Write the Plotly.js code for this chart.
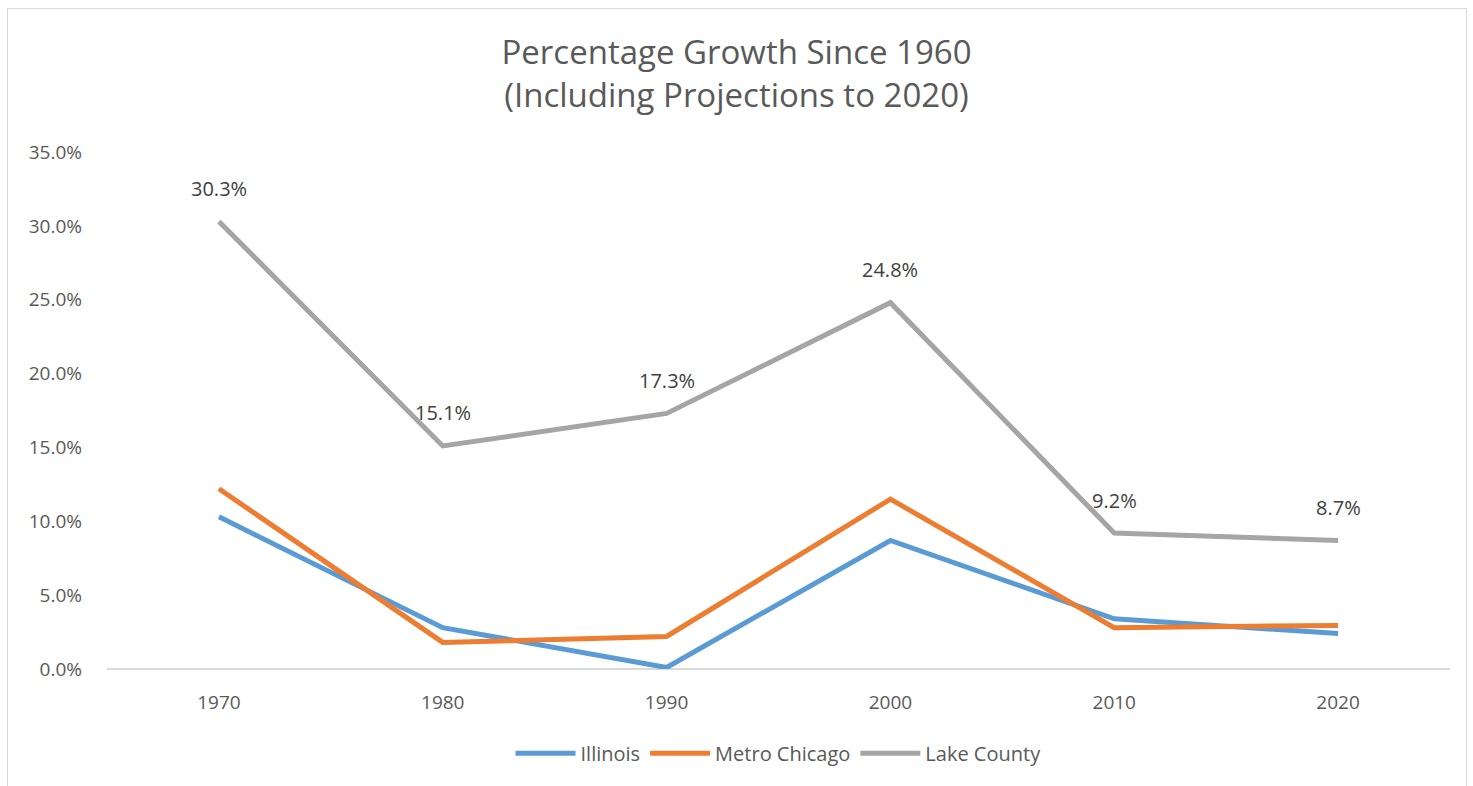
<!DOCTYPE html>
<html>
<head>
<meta charset="utf-8">
<script src="https://cdn.plot.ly/plotly-3.0.1.min.js"></script>
<style>
html,body{margin:0;padding:0;background:#fff;}
#chart{width:1473px;height:786px;}
#frame{position:absolute;left:7px;top:8px;width:1458px;height:790px;border:1px solid #d9d9d9;pointer-events:none;}
</style>
</head>
<body>
<div id="chart"></div>
<div id="frame"></div>
<script>
const years = ['1970','1980','1990','2000','2010','2020'];
const illinois = [10.3, 2.8, 0.1, 8.7, 3.4, 2.4];
const metroChicago = [12.2, 1.8, 2.2, 11.5, 2.8, 2.95];
const lakeCounty = [30.3, 15.1, 17.3, 24.8, 9.2, 8.7];
const lakeLabels = ['30.3%','15.1%','17.3%','24.8%','9.2%','8.7%'];
const yTicks = [0,5,10,15,20,25,30,35];
const yTickText = ['0.0%','5.0%','10.0%','15.0%','20.0%','25.0%','30.0%','35.0%'];

const FONT = 'Open Sans, Noto Sans, sans-serif';
const traces = [
  {x: years, y: illinois, name: 'Illinois', type: 'scatter', mode: 'lines',
   line: {color: '#5B9BD5', width: 5}},
  {x: years, y: metroChicago, name: 'Metro Chicago', type: 'scatter', mode: 'lines',
   line: {color: '#ED7D31', width: 5}},
  {x: years, y: lakeCounty, name: 'Lake County', type: 'scatter', mode: 'lines',
   line: {color: '#A5A5A5', width: 5}}
];
const annotations = [];
for (let i = 0; i < years.length; i++) {
  annotations.push({
    x: i, y: lakeCounty[i], text: lakeLabels[i], showarrow: false,
    xref: 'x', yref: 'y', yshift: 33,
    font: {family: FONT, size: 20, color: '#404040'}
  });
}
const layout = {
  width: 1473, height: 786,
  margin: {l: 107, r: 23, t: 152, b: 117},
  paper_bgcolor: '#fff', plot_bgcolor: '#fff',
  font: {family: FONT, color: '#595959'},
  title: {text: 'Percentage Growth Since 1960<br>(Including Projections to 2020)',
          x: 0.5, xanchor: 'center', y: 0.918, yanchor: 'top',
          font: {family: FONT, size: 33, color: '#595959'}},
  xaxis: {type: 'category', range: [-0.5, 5.5], showgrid: false, zeroline: false,
          showline: false, ticks: '', tickfont: {size: 19, color: '#595959'}, ticklabelstandoff: 20},
  yaxis: {range: [0, 35], tickvals: yTicks, ticktext: yTickText, showgrid: false,
          zeroline: true, zerolinecolor: '#d9d9d9', zerolinewidth: 1.5, showline: false,
          tickfont: {size: 19, color: '#595959'}, ticklabelstandoff: 24, fixedrange: true},
  legend: {orientation: 'h', x: 0.5, xanchor: 'center', y: -0.125, yanchor: 'top',
           font: {size: 20, color: '#595959'}, itemwidth: 60, entrywidth: 0},
  annotations: annotations,
  showlegend: true
};
Plotly.newPlot('chart', traces, layout, {displayModeBar: false, staticPlot: true})
  .catch(e => { document.body.insertAdjacentHTML('beforeend', '<pre>' + e + '</pre>'); });
</script>
</body>
</html>
